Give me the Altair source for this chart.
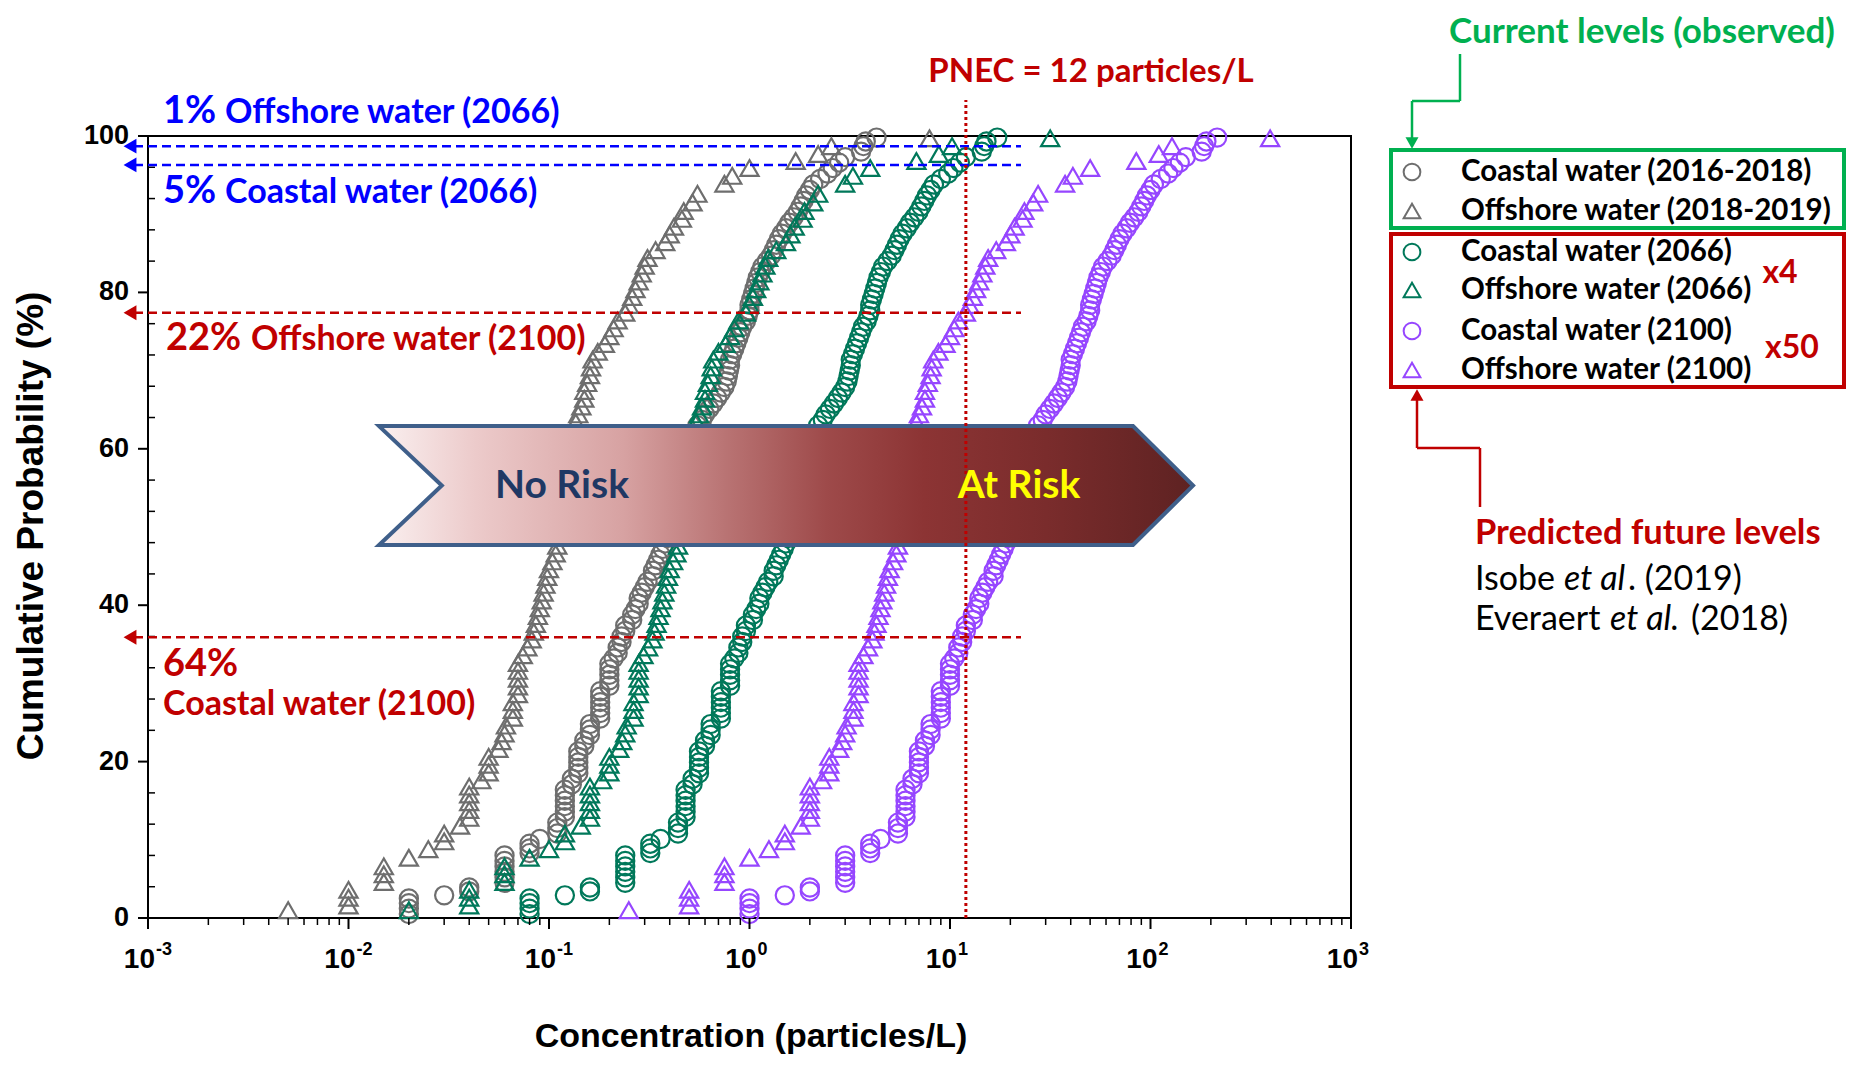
import altair as alt
import pandas as pd

# ---------------- data ----------------
# observed coastal water (2016-2018): concentration (particles/L) and cumulative probability (%)
coastal_obs_conc = [0.02, 0.02, 0.02, 0.02, 0.03, 0.04, 0.04, 0.06, 0.06, 0.06, 0.06, 0.06, 0.06,
                    0.08, 0.08, 0.08, 0.09, 0.11, 0.11, 0.11, 0.12, 0.12, 0.12, 0.12, 0.12, 0.12,
                    0.13, 0.13, 0.14, 0.14, 0.14, 0.14, 0.14, 0.15, 0.15, 0.16, 0.16, 0.16,
                    0.18, 0.18, 0.18, 0.18, 0.18, 0.18, 0.2, 0.2, 0.2, 0.2, 0.2,
                    0.21, 0.22, 0.22, 0.23, 0.23, 0.24, 0.24, 0.26, 0.26, 0.27, 0.28, 0.28, 0.29, 0.3, 0.31,
                    0.33, 0.33, 0.34, 0.35, 0.36, 0.37, 0.38, 0.39,
                    0.55, 0.58, 0.6, 0.63, 0.66, 0.69, 0.72, 0.75,
                    0.77, 0.78, 0.79, 0.8, 0.8, 0.82, 0.84, 0.86, 0.88, 0.9, 0.92,
                    0.96, 0.98, 1.0, 1.0, 1.02, 1.04, 1.06, 1.08, 1.1, 1.13, 1.16,
                    1.22, 1.28, 1.32, 1.36, 1.4, 1.45, 1.52, 1.58, 1.66, 1.74,
                    1.8, 1.86, 1.92, 2.0, 2.08, 2.25, 2.45, 2.6, 2.8, 3.0,
                    3.6, 3.7, 3.8, 4.3]
coastal_obs_cum = [0.5, 1.2, 1.9, 2.5, 2.9, 3.4, 3.9, 4.5, 5.2, 5.9, 6.6, 7.3, 8.0,
                   8.3, 8.9, 9.5, 10.1, 10.8, 11.5, 12.2, 12.9, 13.6, 14.3, 15.0, 15.7, 16.4,
                   17.1, 17.8, 18.5, 19.2, 19.9, 20.6, 21.3, 22.0, 22.7, 23.4, 24.1, 24.8,
                   25.5, 26.2, 26.9, 27.6, 28.3, 29.0, 29.7, 30.4, 31.1, 31.8, 32.5,
                   33.2, 33.9, 34.6, 35.3, 36.0, 36.7, 37.4, 38.1, 38.8, 39.5, 40.2, 40.9, 41.6, 42.3, 43.0,
                   43.7, 44.4, 45.1, 45.8, 46.5, 47.2, 47.9, 48.6,
                   63.0, 63.7, 64.4, 65.1, 65.8, 66.5, 67.2, 67.9,
                   68.6, 69.3, 70.0, 70.7, 71.4, 72.1, 72.8, 73.5, 74.2, 74.9, 75.6,
                   76.3, 77.0, 77.7, 78.4, 79.1, 79.8, 80.5, 81.2, 81.9, 82.6, 83.3,
                   84.0, 84.7, 85.4, 86.1, 86.8, 87.5, 88.2, 88.9, 89.6, 90.3,
                   91.0, 91.7, 92.4, 93.1, 93.8, 94.5, 95.2, 95.9, 96.6, 97.3,
                   98.0, 98.7, 99.3, 99.8]

# observed offshore water (2018-2019)
offshore_obs_conc = [0.005, 0.01, 0.01, 0.01, 0.015, 0.015, 0.015, 0.02, 0.025, 0.03, 0.03, 0.036,
                     0.04, 0.04, 0.04, 0.04, 0.04, 0.046, 0.05, 0.05, 0.05, 0.056, 0.058, 0.06, 0.061,
                     0.066, 0.066, 0.066, 0.07, 0.07, 0.07, 0.07, 0.07,
                     0.074, 0.078, 0.082, 0.084, 0.086, 0.088, 0.09, 0.092, 0.094, 0.096,
                     0.098, 0.1, 0.104, 0.108, 0.11,
                     0.136, 0.14, 0.145, 0.15, 0.15, 0.155, 0.16, 0.162, 0.165,
                     0.175, 0.19, 0.2, 0.21, 0.22, 0.24,
                     0.25, 0.26, 0.27, 0.28, 0.29, 0.3,
                     0.31, 0.34, 0.38, 0.4, 0.42, 0.46, 0.47, 0.52, 0.55,
                     0.75, 0.82, 1.0, 1.7, 2.2, 2.56, 7.9]
offshore_obs_cum = [1.0, 1.6, 2.6, 3.6, 4.6, 5.6, 6.6, 7.7, 8.8, 9.8, 10.8, 11.8,
                    12.8, 13.8, 14.8, 15.8, 16.8, 17.6, 18.6, 19.6, 20.6, 21.6, 22.6, 23.6, 24.6,
                    25.6, 26.6, 27.6, 28.6, 29.6, 30.6, 31.6, 32.6,
                    33.6, 34.6, 35.6, 36.6, 37.6, 38.6, 39.6, 40.6, 41.6, 42.6,
                    43.6, 44.6, 45.6, 46.6, 47.6,
                    63.4, 64.4, 65.4, 66.4, 67.4, 68.4, 69.4, 70.4, 71.4,
                    72.4, 73.4, 74.4, 75.4, 76.4, 77.4,
                    78.4, 79.4, 80.4, 81.4, 82.4, 83.4,
                    84.4, 85.4, 86.4, 87.4, 88.4, 89.4, 90.4, 91.5, 92.6,
                    93.9, 94.9, 95.9, 96.8, 97.7, 98.7, 99.7]

# multipliers written in the legend (x4 -> 2066, x50 -> 2100)
factor_2066 = 4
factor_2100 = 50

series_names = ["Coastal water (2016-2018)", "Offshore water (2018-2019)",
                "Coastal water (2066)", "Offshore water (2066)",
                "Coastal water (2100)", "Offshore water (2100)"]
series_colors = ["#6e6e6e", "#6e6e6e", "#00785a", "#00785a", "#9646ff", "#9646ff"]
series_shapes = ["circle", "triangle-up", "circle", "triangle-up", "circle", "triangle-up"]

x_decades = [0.001, 0.01, 0.1, 1, 10, 100, 1000]
x_exponents = ["-3", "-2", "-1", "0", "1", "2", "3"]
x_minor = [m * d for d in [0.001, 0.01, 0.1, 1, 10, 100] for m in range(2, 10)]
y_major = [0, 20, 40, 60, 80, 100]
y_labels = ["0", "20", "40", "60", "80", "100"]
y_minor = [v for v in range(4, 100, 4) if v % 20 != 0]

pnec = 12
blue_levels = [98.7, 96.3]      # 1% offshore 2066, 5% coastal 2066
red_levels = [77.4, 35.9]       # 22% offshore 2100, 64% coastal 2100

# risk arrow outline (cumulative %, left / right concentration)
arrow_cum = [47.7, 55.3, 62.9]
arrow_left = [0.0142, 0.0292, 0.0142]
arrow_right = [81.8, 163.0, 81.8]

# ---------------- build tables ----------------
rows = []
k = 0
for name, conc, cum, f in [
    (series_names[0], coastal_obs_conc, coastal_obs_cum, 1),
    (series_names[1], offshore_obs_conc, offshore_obs_cum, 1),
    (series_names[2], coastal_obs_conc, coastal_obs_cum, factor_2066),
    (series_names[3], offshore_obs_conc, offshore_obs_cum, factor_2066),
    (series_names[4], coastal_obs_conc, coastal_obs_cum, factor_2100),
    (series_names[5], offshore_obs_conc, offshore_obs_cum, factor_2100),
]:
    for c, p in zip(conc, cum):
        rows.append({"series": name, "conc": c * f, "cum": p, "k": k})
        k += 1
df = pd.DataFrame(rows)

W, H = 1203, 782
xs = alt.Scale(type="log", domain=[0.001, 1000])
ys = alt.Scale(domain=[0, 100], nice=False, zero=False)
one = pd.DataFrame({"a": [0]})

AX_FONT = "Liberation Sans"
NARROW = "Liberation Sans Narrow, Liberation Sans"
ANN_FONT = "Lato"

points = alt.Chart(df).mark_point(filled=False, strokeWidth=2.2, size=330, opacity=1).encode(
    x=alt.X("conc:Q", scale=xs, axis=None),
    y=alt.Y("cum:Q", scale=ys, axis=None),
    color=alt.Color("series:N", scale=alt.Scale(domain=series_names, range=series_colors), legend=None),
    shape=alt.Shape("series:N", scale=alt.Scale(domain=series_names, range=series_shapes), legend=None),
    order=alt.Order("k:Q"),
)

# ---- hand-drawn axes (ticks, labels, titles) ----
x_major_ticks = alt.Chart(pd.DataFrame({"v": x_decades})).mark_rule(color="black", strokeWidth=2).encode(
    x=alt.X("v:Q", scale=xs, axis=None), y=alt.value(H), y2=alt.value(H + 11))
x_minor_ticks = alt.Chart(pd.DataFrame({"v": x_minor})).mark_rule(color="black", strokeWidth=1.5).encode(
    x=alt.X("v:Q", scale=xs, axis=None), y=alt.value(H), y2=alt.value(H + 7))
ylab_df = pd.DataFrame({"v": y_major, "t": y_labels})
y_major_ticks = alt.Chart(ylab_df).mark_rule(color="black", strokeWidth=2).encode(
    y=alt.Y("v:Q", scale=ys, axis=None), x=alt.value(0), x2=alt.value(-10))
y_minor_ticks = alt.Chart(pd.DataFrame({"v": y_minor})).mark_rule(color="black", strokeWidth=1.5).encode(
    y=alt.Y("v:Q", scale=ys, axis=None), x=alt.value(0), x2=alt.value(7))
y_tick_labels = alt.Chart(ylab_df).mark_text(align="right", baseline="middle", font=NARROW,
                                             fontSize=27, fontWeight="bold", color="black").encode(
    y=alt.Y("v:Q", scale=ys, axis=None), x=alt.value(-19), text="t:N")

dec_df = pd.DataFrame({"v": x_decades, "e": x_exponents})
x_lab_base = alt.Chart(dec_df).mark_text(text="10", align="right", baseline="middle", dx=7,
                                         font=NARROW, fontSize=28, fontWeight="bold",
                                         color="black").encode(
    x=alt.X("v:Q", scale=xs, axis=None), y=alt.value(H + 42))
x_lab_exp = alt.Chart(dec_df).mark_text(align="left", baseline="middle", dx=8,
                                        font=NARROW, fontSize=18, fontWeight="bold",
                                        color="black").encode(
    x=alt.X("v:Q", scale=xs, axis=None), y=alt.value(H + 32), text="e:N")

x_title = alt.Chart(one).mark_text(text="Concentration (particles/L)", align="center",
                                   baseline="alphabetic", font=AX_FONT, fontSize=34,
                                   fontWeight="bold", color="black").encode(
    x=alt.value(603), y=alt.value(H + 129))
y_title = alt.Chart(one).mark_text(text="Cumulative Probability (%)", align="center",
                                   baseline="middle", angle=270, font=AX_FONT, fontSize=37,
                                   fontWeight="bold", color="black").encode(
    x=alt.value(-116), y=alt.value(390))

arrow_df = pd.DataFrame({"cum": arrow_cum, "xl": arrow_left, "xr": arrow_right})
grad = alt.LinearGradient(gradient="linear", x1=0, x2=1, y1=0, y2=0, stops=[
    alt.GradientStop(color="#faf0f0", offset=0.0),
    alt.GradientStop(color="#eccaca", offset=0.12),
    alt.GradientStop(color="#d7a2a2", offset=0.3),
    alt.GradientStop(color="#b87272", offset=0.43),
    alt.GradientStop(color="#9e4a4a", offset=0.55),
    alt.GradientStop(color="#8c3434", offset=0.67),
    alt.GradientStop(color="#7a2c2c", offset=0.82),
    alt.GradientStop(color="#5e2222", offset=1.0),
])
risk_arrow = alt.Chart(arrow_df).mark_area(orient="horizontal", color=grad, stroke="#3f5f8a",
                                           strokeWidth=4, opacity=1).encode(
    y=alt.Y("cum:Q", scale=ys, axis=None),
    x=alt.X("xl:Q", scale=xs, axis=None),
    x2="xr:Q")


def txt(s, x, y, size, color="black", weight="bold", align="left", baseline="alphabetic",
        font=ANN_FONT, style="normal"):
    return alt.Chart(one).mark_text(text=s, fontSize=size, color=color, fontWeight=weight,
                                    align=align, baseline=baseline, font=font,
                                    fontStyle=style).encode(x=alt.value(x), y=alt.value(y))


def seg(x1, y1, x2, y2, color, width):
    return alt.Chart(one).mark_rule(color=color, strokeWidth=width).encode(
        x=alt.value(x1), y=alt.value(y1), x2=alt.value(x2), y2=alt.value(y2))


def hline(level, color):
    return alt.Chart(one).mark_rule(color=color, strokeWidth=2.5, strokeDash=[9, 5]).encode(
        y=alt.YDatum(level, scale=ys, axis=None), x=alt.value(-14), x2=alt.value(873))


def head(level, color):
    return alt.Chart(one).mark_point(shape="triangle-left", filled=True, size=220, color=color,
                                     opacity=1).encode(y=alt.YDatum(level, scale=ys, axis=None),
                                                       x=alt.value(-18))


def pxhead(x, y, shape, color):
    return alt.Chart(one).mark_point(shape=shape, filled=True, size=170, color=color,
                                     opacity=1).encode(x=alt.value(x), y=alt.value(y))


BLUE = "#0000ff"
RED = "#c00000"
GREEN = "#00b050"

lines = [hline(v, BLUE) for v in blue_levels] + [head(v, BLUE) for v in blue_levels] + \
        [hline(v, RED) for v in red_levels] + [head(v, RED) for v in red_levels]

pnec_rule = alt.Chart(one).mark_rule(color=RED, strokeWidth=3, strokeDash=[3, 3]).encode(
    x=alt.XDatum(pnec, scale=xs, axis=None), y=alt.value(H), y2=alt.value(-36))

annotations = [
    txt("1%", 15, -13, 38, BLUE),
    txt("Offshore water (2066)", 77, -13, 34, BLUE),
    txt("5%", 15, 67, 38, BLUE),
    txt("Coastal water (2066)", 77, 67, 34, BLUE),
    txt("22%", 18, 214, 38, RED),
    txt("Offshore water (2100)", 103, 214, 34, RED),
    txt("64%", 15, 540, 38, RED),
    txt("Coastal water (2100)", 15, 579, 34, RED),
    txt("PNEC = 12 particles/L", 943, -54, 33, RED, align="center"),
    txt("No Risk", 414, 350, 39, "#1f3864", align="center", baseline="middle"),
    txt("At Risk", 871, 350, 39, "#ffff00", align="center", baseline="middle"),
]

# ---------------- legend (drawn by hand, outside the plot) ----------------
leg_rows_y = [36, 75, 116, 154, 195, 234]
legend_parts = [
    alt.Chart(one).mark_rect(fillOpacity=0, stroke=GREEN, strokeWidth=4).encode(
        x=alt.value(1243), x2=alt.value(1696), y=alt.value(14), y2=alt.value(92)),
    alt.Chart(one).mark_rect(fillOpacity=0, stroke=RED, strokeWidth=4).encode(
        x=alt.value(1243), x2=alt.value(1696), y=alt.value(98), y2=alt.value(251)),
]
for name, col, shp, yy in zip(series_names, series_colors, series_shapes, leg_rows_y):
    legend_parts.append(alt.Chart(one).mark_point(shape=shp, filled=False, size=280, strokeWidth=2,
                                                  color=col, opacity=1).encode(
        x=alt.value(1264), y=alt.value(yy)))
    legend_parts.append(txt(name, 1313, yy, 29.5, "black", baseline="middle"))
legend_parts += [
    txt("x4", 1632, 137, 32, RED, align="center", baseline="middle"),
    txt("x50", 1644, 212, 32, RED, align="center", baseline="middle"),
    txt("Current levels (observed)", 1494, -104, 35, GREEN, align="center", baseline="middle"),
    seg(1312, -82, 1312, -35, GREEN, 2.5),
    seg(1264, -35, 1312, -35, GREEN, 2.5),
    seg(1264, -35, 1264, 4, GREEN, 2.5),
    pxhead(1264, 7, "triangle-down", GREEN),
    seg(1332, 371, 1332, 312, RED, 2.5),
    seg(1269, 312, 1332, 312, RED, 2.5),
    seg(1269, 312, 1269, 262, RED, 2.5),
    pxhead(1269, 259, "triangle-up", RED),
    txt("Predicted future levels", 1327, 398, 34.5, RED, baseline="middle"),
    txt("Isobe", 1327, 444, 34, "black", weight="normal", baseline="middle"),
    txt("et al", 1416, 444, 34, "black", weight="normal", baseline="middle", style="italic"),
    txt(". (2019)", 1480, 444, 34, "black", weight="normal", baseline="middle"),
    txt("Everaert", 1327, 484, 34, "black", weight="normal", baseline="middle"),
    txt("et al.", 1462, 484, 34, "black", weight="normal", baseline="middle", style="italic"),
    txt("(2018)", 1543, 484, 34, "black", weight="normal", baseline="middle"),
]

chart = alt.layer(
    points, x_major_ticks, x_minor_ticks, y_major_ticks, y_minor_ticks, y_tick_labels,
    x_lab_base, x_lab_exp, x_title, y_title, risk_arrow,
    *lines, pnec_rule, *annotations, *legend_parts
).properties(
    width=W, height=H,
    autosize=alt.AutoSizeParams(type="none"),
    padding={"left": 140, "top": 128, "right": 497, "bottom": 139},
).configure_view(stroke="black", strokeWidth=2)

chart.save("out.html", embed_options={"renderer": "svg", "actions": False})
